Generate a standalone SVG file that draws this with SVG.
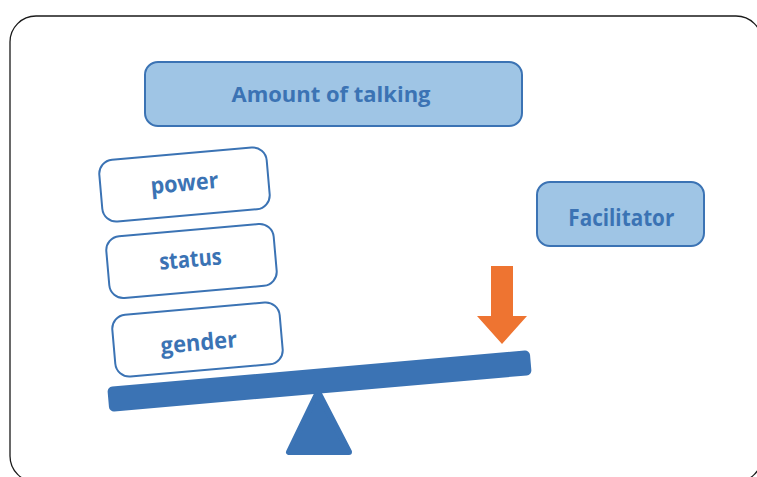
<svg xmlns="http://www.w3.org/2000/svg" width="757" height="477" viewBox="0 0 757 477">
  <style>
    .frame { fill: #ffffff; stroke: #1a1a1a; stroke-width: 1.3; }
    .head { fill: #9fc5e5; stroke: #3b73b4; stroke-width: 2; }
    .card { fill: #ffffff; stroke: #3b73b4; stroke-width: 2; }
    .lbl { font-family: "Open Sans", "DejaVu Sans", sans-serif; font-weight: bold; font-size: 23px; fill: #3b73b4; text-anchor: middle; }
    .solid { fill: #3b73b4; }
    .force { fill: #ee7431; }
  </style>
  <rect class="frame" x="10" y="16" width="752" height="466" rx="26"/>

  <g id="amount-of-talking">
    <rect class="head" x="145" y="62" width="377" height="64" rx="13"/>
    <text class="lbl" x="331" y="102.3" style="font-size:20.5px" textLength="199" lengthAdjust="spacingAndGlyphs">Amount of talking</text>
  </g>

  <g id="facilitator">
    <rect class="head" x="537" y="182" width="167" height="64" rx="13"/>
    <text class="lbl" x="621.3" y="225.7" textLength="106" lengthAdjust="spacingAndGlyphs">Facilitator</text>
  </g>

  <g id="power" transform="translate(184.5 184.5) rotate(-5)">
    <rect class="card" x="-84" y="-31" width="168" height="62" rx="14"/>
    <text class="lbl" x="0" y="6.5" textLength="68" lengthAdjust="spacingAndGlyphs">power</text>
  </g>

  <g id="status" transform="translate(191.5 261) rotate(-5)">
    <rect class="card" x="-84" y="-31" width="168" height="62" rx="14"/>
    <text class="lbl" x="-1" y="6" textLength="62.5" lengthAdjust="spacingAndGlyphs">status</text>
  </g>

  <g id="gender" transform="translate(197.5 339.5) rotate(-5)">
    <rect class="card" x="-84" y="-31" width="168" height="62" rx="14"/>
    <text class="lbl" x="1" y="11" textLength="76.5" lengthAdjust="spacingAndGlyphs">gender</text>
  </g>

  <g id="fulcrum">
    <polygon class="solid" points="318,392 289,452 349,452" stroke="#3b73b4" stroke-width="6" stroke-linejoin="round"/>
  </g>

  <g id="beam">
    <rect class="solid" x="-212" y="-12.5" width="424" height="25" rx="5" transform="translate(319.5 381) rotate(-5)"/>
  </g>

  <g id="connectors">
    <polygon class="force" points="491,266 513,266 513,316 527,316 502,344 477,316 491,316"/>
  </g>
</svg>
